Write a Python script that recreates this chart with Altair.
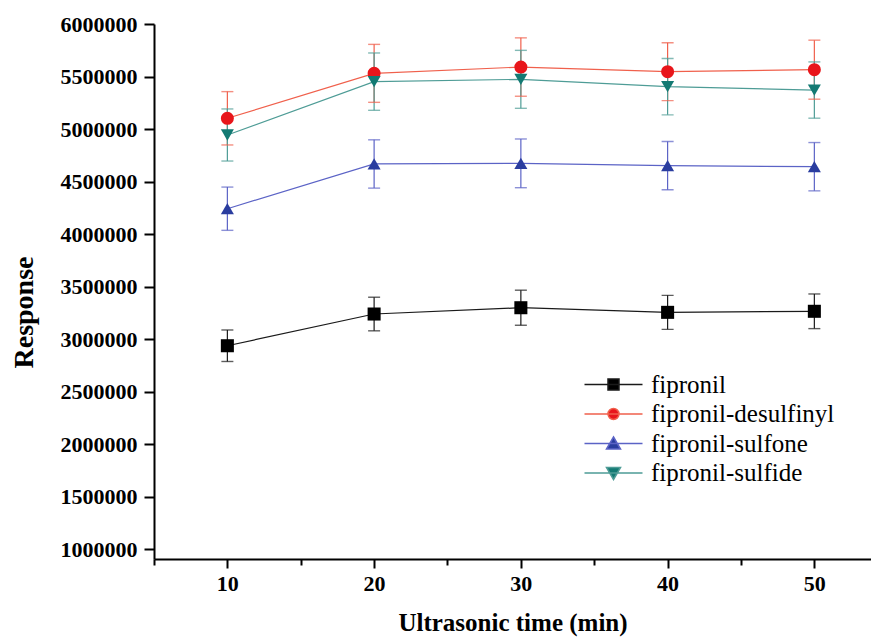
import altair as alt
import pandas as pd

times = [10, 20, 30, 40, 50]
series = ["fipronil", "fipronil-desulfinyl", "fipronil-sulfone", "fipronil-sulfide"]

fipronil = [2936000, 3238000, 3298000, 3254000, 3264000]
fipronil_err = [150000, 160000, 167000, 162000, 165000]
desulfinyl = [5102000, 5530000, 5590000, 5546000, 5565000]
desulfinyl_err = [254000, 276000, 278000, 276000, 281000]
sulfone = [4241000, 4667000, 4673000, 4651000, 4641000]
sulfone_err = [206000, 230000, 232000, 230000, 230000]
sulfide = [4943000, 5451000, 5473000, 5403000, 5371000]
sulfide_err = [248000, 273000, 276000, 268000, 268000]

marker_colors = ["#000000", "#e8161b", "#2a3d9f", "#137a73"]
line_colors = ["#1a1a1a", "#f0604c", "#5b63c6", "#4e9c96"]
shapes = ["square", "circle", "triangle-up", "triangle-down"]
legend_shapes = [
    "M-2.9,0H2.9M-0.55,-0.55H0.55V0.55H-0.55Z",
    "M-2.9,0H2.9M-0.55,0A0.55,0.55 0 1,0 0.55,0A0.55,0.55 0 1,0 -0.55,0Z",
    "M-2.9,0H2.9M0,-0.65L0.7,0.55L-0.7,0.55Z",
    "M-2.9,0H2.9M0,0.65L0.7,-0.55L-0.7,-0.55Z",
]

x_ticks = [5, 10, 15, 20, 25, 30, 35, 40, 45, 50]
y_ticks = [1000000 + 250000 * i for i in range(21)]

rows = []
for name, vals, errs in [
    (series[0], fipronil, fipronil_err),
    (series[1], desulfinyl, desulfinyl_err),
    (series[2], sulfone, sulfone_err),
    (series[3], sulfide, sulfide_err),
]:
    for t, v, e in zip(times, vals, errs):
        rows.append({"time": t, "series": name, "value": v, "lo": v - e, "hi": v + e})
df = pd.DataFrame(rows)

FONT = "Liberation Serif"

x_axis = alt.Axis(
    values=x_ticks,
    labelExpr="datum.value % 10 == 0 ? datum.label : ''",
    title="Ultrasonic time (min)",
    titleFont=FONT, titleFontSize=25, titleFontWeight="bold", titleColor="black",
    titlePadding=16,
    labelFont=FONT, labelFontSize=22, labelFontWeight="bold", labelColor="black",
    labelPadding=5,
    tickSize={"condition": {"test": "datum.value % 10 != 0", "value": 6}, "value": 9},
    tickWidth=2, tickColor="black",
    domainColor="black", domainWidth=2, grid=False,
)
y_axis = alt.Axis(
    values=y_ticks,
    labelExpr="datum.value % 500000 == 0 ? datum.label : ''",
    format="d",
    title="Response",
    titleFont=FONT, titleFontSize=28, titleFontWeight="bold", titleColor="black",
    titleX=-130, titleY=288, titleAlign="center", titleBaseline="middle", titleAngle=270,
    labelFont=FONT, labelFontSize=22, labelFontWeight="bold", labelColor="black",
    labelPadding=7,
    tickSize={"condition": {"test": "datum.value % 500000 != 0", "value": 6}, "value": 10},
    tickWidth=2, tickColor="black",
    domainColor="black", domainWidth=2, grid=False,
)

xs = alt.Scale(domain=[5, 53.86], nice=False, zero=False)
ys = alt.Scale(domain=[905000, 6000000], nice=False, zero=False)

X = alt.X("time:Q", scale=xs, axis=x_axis)
Y = alt.Y("value:Q", scale=ys, axis=y_axis)

line_color = alt.Color("series:N", scale=alt.Scale(domain=series, range=line_colors), legend=None)
mk_color = alt.Color("series:N", scale=alt.Scale(domain=series, range=marker_colors), legend=None)

base = alt.Chart(df)

lines = base.mark_line(strokeWidth=1.2).encode(x=X, y=Y, color=line_color, detail="series:N")
rules = base.mark_rule(strokeWidth=1.2).encode(
    x=alt.X("time:Q", scale=xs), y=alt.Y("lo:Q", scale=ys), y2="hi:Q", color=line_color
)
cap_lo = base.mark_tick(orient="horizontal", size=12, thickness=1.4).encode(
    x=alt.X("time:Q", scale=xs), y=alt.Y("lo:Q", scale=ys), color=line_color
)
cap_hi = base.mark_tick(orient="horizontal", size=12, thickness=1.4).encode(
    x=alt.X("time:Q", scale=xs), y=alt.Y("hi:Q", scale=ys), color=line_color
)
points = base.mark_point(filled=True, size=170, opacity=1).encode(
    x=X, y=Y, color=mk_color,
    shape=alt.Shape("series:N", scale=alt.Scale(domain=series, range=shapes), legend=None),
)

legend_layer = base.transform_filter("false").mark_point(size=400, opacity=1, strokeWidth=1.5).encode(
    x=alt.X("time:Q", scale=xs),
    y=alt.Y("value:Q", scale=ys),
    fill=alt.Fill("series:N", scale=alt.Scale(domain=series, range=marker_colors),
                  legend=alt.Legend(title=None, orient="none", legendX=447, legendY=348,
                                    labelFont=FONT, labelFontSize=25, labelColor="black",
                                    labelOffset=25, labelLimit=0, rowPadding=3.5,
                                    symbolStrokeWidth=1.5, symbolSize=400, padding=0)),
    stroke=alt.Stroke("series:N", scale=alt.Scale(domain=series, range=line_colors)),
    shape=alt.Shape("series:N", scale=alt.Scale(domain=series, range=legend_shapes)),
)

chart = alt.layer(lines, rules, cap_lo, cap_hi, points, legend_layer).resolve_scale(
    color="independent", shape="independent", fill="independent", stroke="independent"
).properties(
    width=717, height=535,
    autosize=alt.AutoSizeParams(type="none"),
    padding={"left": 146, "top": 16, "right": 0, "bottom": 79},
    background="white",
).configure_view(stroke=None).configure_legend(
    labelFont=FONT, labelFontSize=25, labelColor="black", labelLimit=0
)

chart.save("out.html", embed_options={"renderer": "svg", "actions": False})
